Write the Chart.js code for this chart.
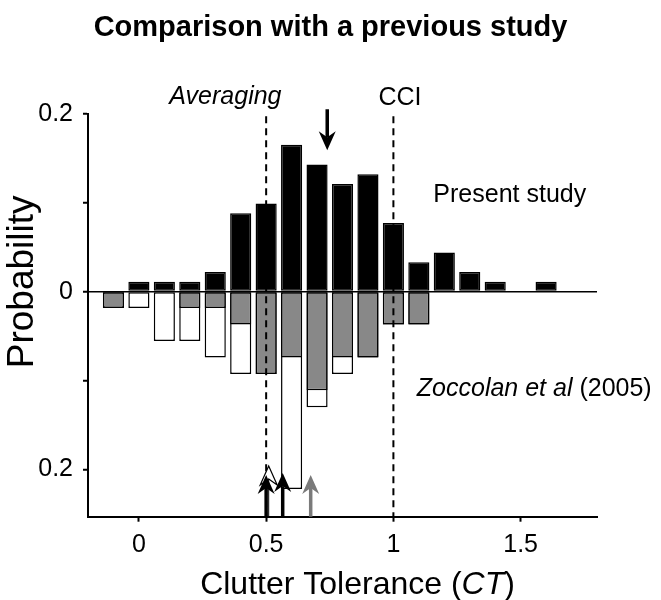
<!DOCTYPE html>
<html><head><meta charset="utf-8">
<script src="https://cdn.jsdelivr.net/npm/chart.js@4.4.1/dist/chart.umd.min.js"></script>
<style>html,body{margin:0;padding:0;background:#fff;}#wrap{width:661px;height:600px;position:relative;}</style>
</head><body><div id="wrap"><canvas id="c"></canvas></div>
<script>
// ---- data ----
const ctBins        = [-0.1, 0, 0.1, 0.2, 0.3, 0.4, 0.5, 0.6, 0.7, 0.8, 0.9, 1.0, 1.1, 1.2, 1.3, 1.4, 1.5, 1.6];
const presentStudy  = [null, 0.011, 0.011, 0.011, 0.022, 0.088, 0.099, 0.165, 0.143, 0.121, 0.132, 0.077, 0.033, 0.044, 0.022, 0.011, null, 0.011];
const zoccolanGray  = [0.0185, null, null, 0.0185, 0.0185, 0.037, 0.0926, 0.074, 0.111, 0.074, 0.074, 0.037, 0.037, null, null, null, null, null];
const zoccolanTotal = [0.0185, 0.0185, 0.0556, 0.0556, 0.074, 0.0926, 0.0926, 0.222, 0.130, 0.0926, 0.074, 0.037, 0.037, null, null, null, null, null];
const xTickValues = [0, 0.5, 1, 1.5];
const yTickValues = [-0.2, -0.1, 0, 0.1, 0.2];
const yTickLabels = ['0.2', '', '0', '', '0.2'];
const referenceLines = [0.5, 1.0];
const presentMean = 0.74;
const zoccolanMeans = [0.51, 0.5, 0.565, 0.675];
const chartTitle = 'Comparison with a previous study';

const FONT = '"Liberation Sans", Arial, Helvetica, sans-serif';

function drawArrow(ctx, px, tailY, tipY, color, open) {
  const dir = tipY < tailY ? -1 : 1;
  const headLen = 19, half = 8.5, notch = 13;
  const baseY = tipY - dir * headLen, notchY = tipY - dir * notch;
  ctx.strokeStyle = open ? '#000' : color;
  ctx.lineWidth = open ? 1 : 3.5;
  ctx.beginPath(); ctx.moveTo(px, tailY); ctx.lineTo(px, notchY); ctx.stroke();
  ctx.beginPath();
  ctx.moveTo(px, tipY); ctx.lineTo(px + half, baseY); ctx.lineTo(px, notchY); ctx.lineTo(px - half, baseY); ctx.closePath();
  if (open) { ctx.fillStyle = '#fff'; ctx.fill(); ctx.lineWidth = 1.2; ctx.stroke(); }
  else { ctx.fillStyle = color; ctx.fill(); }
}

const overlay = {
  id: 'overlay',
  afterDatasetsDraw(chart) {
    const {ctx, scales: {x, y}, chartArea} = chart;
    ctx.save();
    ctx.strokeStyle = '#000'; ctx.lineWidth = 2; ctx.setLineDash([7, 5]);
    referenceLines.forEach(v => {
      const px = x.getPixelForValue(v);
      ctx.beginPath(); ctx.moveTo(px, y.getPixelForValue(0.197)); ctx.lineTo(px, chartArea.bottom); ctx.stroke();
    });
    ctx.setLineDash([]);
    drawArrow(ctx, x.getPixelForValue(presentMean), y.getPixelForValue(0.205), y.getPixelForValue(0.159), '#000', false);
    const bottom = chartArea.bottom;
    drawArrow(ctx, x.getPixelForValue(zoccolanMeans[0]), bottom, y.getPixelForValue(-0.196), '#000', true);
    drawArrow(ctx, x.getPixelForValue(zoccolanMeans[1]), bottom, y.getPixelForValue(-0.206), '#000', false);
    drawArrow(ctx, x.getPixelForValue(zoccolanMeans[2]), bottom, y.getPixelForValue(-0.204), '#000', false);
    drawArrow(ctx, x.getPixelForValue(zoccolanMeans[3]), bottom, y.getPixelForValue(-0.206), '#7a7a7a', false);
    ctx.restore();
  },
  afterDraw(chart) {
    const {ctx, scales: {x, y}, chartArea} = chart;
    ctx.save();
    ctx.fillStyle = '#000';
    ctx.textBaseline = 'alphabetic';
    // title
    ctx.font = 'bold 29px ' + FONT; ctx.textAlign = 'center';
    ctx.fillText(chartTitle, chart.width / 2, 36);
    ctx.font = 'italic 25px ' + FONT; ctx.textAlign = 'center';
    ctx.fillText('Averaging', x.getPixelForValue(0.34), y.getPixelForValue(0.211));
    ctx.font = '25px ' + FONT;
    ctx.fillText('CCI', x.getPixelForValue(1.026), y.getPixelForValue(0.21));
    ctx.textAlign = 'left';
    ctx.fillText('Present study', x.getPixelForValue(1.157), y.getPixelForValue(0.101));
    // Zoccolan et al (2005)
    let zx = x.getPixelForValue(1.092), zy = y.getPixelForValue(-0.117);
    ctx.font = 'italic 25px ' + FONT;
    const p1 = 'Zoccolan et al';
    ctx.fillText(p1, zx, zy);
    zx += ctx.measureText(p1).width;
    ctx.font = '25px ' + FONT;
    ctx.fillText(' (2005)', zx, zy);
    // x axis title
    const a = 'Clutter Tolerance (', c = ')';
    ctx.font = 'italic 32px ' + FONT; const wb = ctx.measureText('CT').width;
    ctx.font = '32px ' + FONT; const wa = ctx.measureText(a).width, wc = ctx.measureText(c).width;
    let tx = x.getPixelForValue(0.859) - (wa + wb + wc) / 2;
    const ty = chartArea.bottom + 77;
    ctx.fillText(a, tx, ty); tx += wa;
    ctx.font = 'italic 32px ' + FONT; ctx.fillText('CT', tx, ty); tx += wb;
    ctx.font = '32px ' + FONT; ctx.fillText(c, tx, ty);
    // y axis title
    ctx.save();
    ctx.translate(chartArea.left - 55, y.getPixelForValue(0.011));
    ctx.rotate(-Math.PI / 2);
    ctx.font = '37px ' + FONT; ctx.textAlign = 'center';
    ctx.fillText('Probability', 0, 0);
    ctx.restore();
    ctx.restore();
  }
};

const toPoints = (vals, sign) => ctBins.map((c, i) => ({x: c, y: vals[i] == null ? null : sign * vals[i]}));
const barCommon = {borderColor: '#000', borderWidth: 1.5, borderSkipped: false, grouped: false, categoryPercentage: 1, barPercentage: 0.83};

new Chart(document.getElementById('c'), {
  type: 'bar',
  data: {
    datasets: [
      Object.assign({label: 'Present study', data: toPoints(presentStudy, 1), backgroundColor: '#000'}, barCommon),
      Object.assign({label: 'Zoccolan et al (2005) gray', data: toPoints(zoccolanGray, -1), backgroundColor: '#888888'}, barCommon),
      Object.assign({label: 'Zoccolan et al (2005) all', data: toPoints(zoccolanTotal, -1), backgroundColor: '#ffffff'}, barCommon)
    ]
  },
  options: {
    responsive: true, maintainAspectRatio: false, animation: false,
    layout: {padding: {left: 0, right: 64, top: 113.7, bottom: 0}},
    plugins: {
      legend: {display: false}, tooltip: {enabled: false}, title: {display: false}
    },
    scales: {
      x: {
        type: 'linear', min: -0.2, max: 1.8, offset: false,
        afterBuildTicks: s => { s.ticks = xTickValues.map(v => ({value: v})); },
        afterFit: s => { s.height = 83.3; },
        ticks: {color: '#000', font: {family: FONT, size: 25}, padding: 8, maxRotation: 0, autoSkip: false,
                callback: v => String(v)},
        grid: {display: true, offset: false, drawOnChartArea: false, drawTicks: true, tickLength: 5, tickColor: '#000', tickWidth: 2},
        border: {display: true, color: '#000', width: 2}
      },
      y: {
        min: -0.253, max: 0.2,
        afterBuildTicks: s => { s.ticks = yTickValues.map(v => ({value: v})); },
        afterFit: s => { s.width = 88; },
        ticks: {color: '#000', font: {family: FONT, size: 25}, padding: 10, autoSkip: false,
                callback: (v, i) => yTickLabels[i]},
        grid: {display: true, offset: false, drawOnChartArea: true, drawTicks: true, tickLength: 5, tickWidth: 2, tickColor: '#000',
               color: c => (c.tick && c.tick.value === 0) ? '#000' : 'rgba(0,0,0,0)', lineWidth: 1.5},
        border: {display: true, color: '#000', width: 2}
      }
    }
  },
  plugins: [overlay]
});
</script></body></html>
